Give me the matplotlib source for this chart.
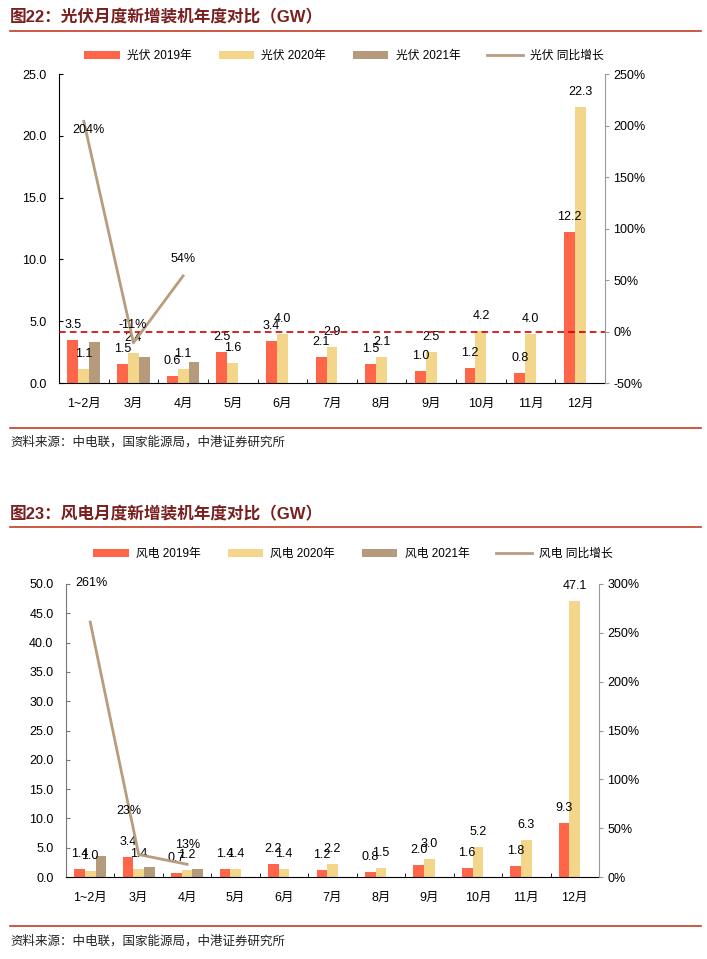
import matplotlib.pyplot as plt
import numpy as np
from matplotlib.lines import Line2D
from matplotlib.ticker import FormatStrFormatter, FuncFormatter, MultipleLocator

plt.rcParams['font.family'] = ['Liberation Sans', 'Noto Sans CJK SC']

# 数据
months = ['1~2月', '3月', '4月', '5月', '6月', '7月', '8月', '9月', '10月', '11月', '12月']

pv_2019 = [3.5, 1.5, 0.6, 2.5, 3.4, 2.1, 1.5, 1.0, 1.2, 0.8, 12.2]
pv_2020 = [1.1, 2.4, 1.1, 1.6, 4.0, 2.9, 2.1, 2.5, 4.2, 4.0, 22.3]
pv_2021 = [3.3, 2.1, 1.7]
pv_growth = [2.04, -0.11, 0.54]

wind_2019 = [1.4, 3.4, 0.7, 1.4, 2.2, 1.2, 0.8, 2.0, 1.6, 1.8, 9.3]
wind_2020 = [1.0, 1.4, 1.2, 1.4, 1.4, 2.2, 1.5, 3.0, 5.2, 6.3, 47.1]
wind_2021 = [3.6, 1.7, 1.4]
wind_growth = [2.61, 0.23, 0.13]

C19 = '#FF6548'
C20 = '#F3D68A'
C21 = '#B59B7C'
CLINE = '#B89C7E'
RED = '#C23B22'
TITLE = '#7A1F1F'

W, H = 707, 959
fig = plt.figure(figsize=(W / 100, H / 100), dpi=100)


def frac(x0, y0, x1, y1):
    # 像素坐标 -> figure 比例
    return [x0 / W, 1 - y1 / H, (x1 - x0) / W, (y1 - y0) / H]


def hline(y, x0=10, x1=701):
    fig.add_artist(Line2D([x0 / W, x1 / W], [1 - y / H, 1 - y / H],
                          transform=fig.transFigure, color=RED, lw=1.2))


def panel(rect, name, v19, v20, v21, growth, ymax, rlim, rstep,
          growth_offsets, left_color, legend_xy, zero_line):
    ax = fig.add_axes(rect)
    x = np.arange(len(months))
    w = 0.22
    b19 = ax.bar(x - w, v19, w, color=C19)
    b20 = ax.bar(x, v20, w, color=C20)
    b21 = ax.bar(x[:len(v21)] + w, v21, w, color=C21)

    for xi, v in zip(x - w, v19):
        ax.annotate(f'{v:.1f}', (xi, v), xytext=(0, 15), textcoords='offset pixels',
                    ha='center', va='center', fontsize=9)
    for xi, v in zip(x, v20):
        ax.annotate(f'{v:.1f}', (xi, v), xytext=(0, 15), textcoords='offset pixels',
                    ha='center', va='center', fontsize=9)

    ax.set_xlim(-0.5, len(months) - 0.5)
    ax.set_ylim(0, ymax)
    ax.yaxis.set_major_locator(MultipleLocator(5))
    ax.yaxis.set_major_formatter(FormatStrFormatter('%.1f'))
    ax.set_xticks(x)
    ax.set_xticklabels(months)
    ax.set_xticks(np.arange(0.5, len(months) - 1, 1), minor=True)
    ax.tick_params(axis='x', which='major', length=0, pad=11, labelsize=9)
    ax.tick_params(axis='x', which='minor', length=3, direction='in')
    ax.tick_params(axis='y', length=3, direction='in', pad=9, labelsize=9,
                   colors=left_color, labelcolor='black')
    ax.spines['top'].set_visible(False)
    ax.spines['right'].set_visible(False)
    ax.spines['left'].set_color(left_color)

    ax2 = ax.twinx()
    ax2.set_ylim(*rlim)
    ax2.yaxis.set_major_locator(MultipleLocator(rstep))
    ax2.yaxis.set_major_formatter(FuncFormatter(lambda v, p: f'{v * 100:.0f}%'))
    ax2.tick_params(axis='y', length=3, direction='out', pad=3, labelsize=9,
                    colors='#999999', labelcolor='black')
    for s in ['top', 'left', 'bottom']:
        ax2.spines[s].set_visible(False)
    ax2.spines['right'].set_color('#999999')
    if zero_line:
        ax2.axhline(0, color='#D00000', lw=1.2, ls=(0, (4, 2.5)))
    gx = x[:len(growth)]
    ln, = ax2.plot(gx, growth, color=CLINE, lw=2)
    for xi, v, off in zip(gx, growth, growth_offsets):
        ax2.annotate(f'{v * 100:.0f}%', (xi, v), xytext=off, textcoords='offset pixels',
                     ha='center', va='center', fontsize=9)

    fig.legend([b19, b20, b21, ln],
               [f'{name} 2019年', f'{name} 2020年', f'{name} 2021年', f'{name} 同比增长'],
               loc='center', bbox_to_anchor=legend_xy, ncol=4, frameon=False,
               fontsize=8.5, handlelength=3.0, handleheight=0.6, handletextpad=0.6,
               columnspacing=2.3)
    return ax


# 图22 光伏
fig.text(10 / W, 1 - 17 / H, '图22：光伏月度新增装机年度对比（GW）', fontsize=12,
         weight='bold', color=TITLE, va='center')
hline(31)
panel(frac(59, 74, 605, 383), '光伏', pv_2019, pv_2020, pv_2021, pv_growth,
      25, (-0.5, 2.5), 0.5, [(5, -9), (-1, 18), (0, 17)], 'black',
      (344 / W, 1 - 56 / H), True)
hline(428)
fig.text(10 / W, 1 - 442 / H, '资料来源：中电联，国家能源局，中港证券研究所', fontsize=9,
         va='center', color='#222222')

# 图23 风电
fig.text(10 / W, 1 - 514 / H, '图23：风电月度新增装机年度对比（GW）', fontsize=12,
         weight='bold', color=TITLE, va='center')
hline(527)
panel(frac(66, 584, 599, 877), '风电', wind_2019, wind_2020, wind_2021, wind_growth,
      50, (0, 3.0), 0.5, [(1, 39), (-10, 44), (0, 19)], '#777777',
      (353 / W, 1 - 554 / H), False)
hline(926)
fig.text(10 / W, 1 - 941 / H, '资料来源：中电联，国家能源局，中港证券研究所', fontsize=9,
         va='center', color='#222222')

fig.savefig('out.png', dpi=100)
